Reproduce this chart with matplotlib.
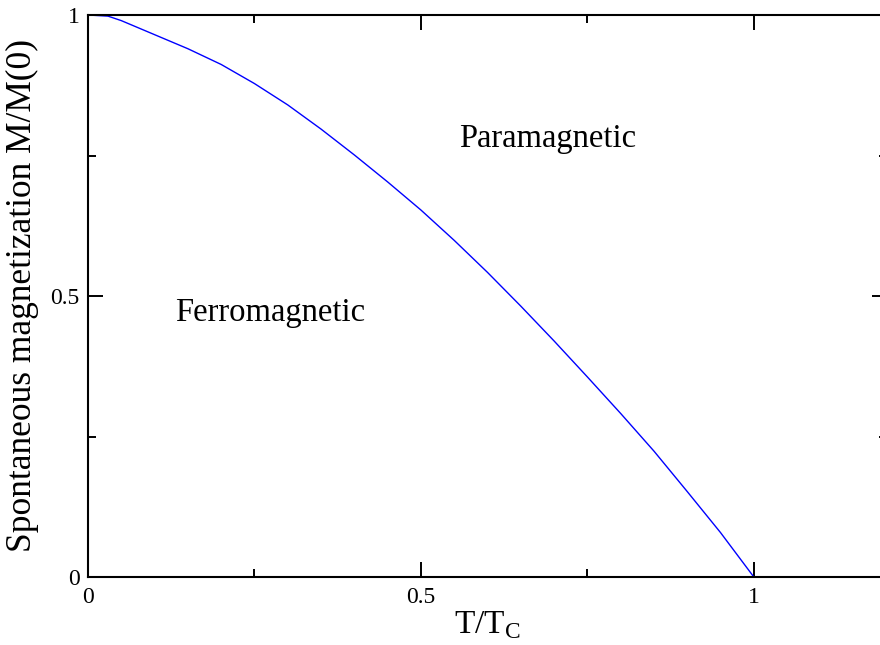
import matplotlib
matplotlib.use("Agg")
import matplotlib.pyplot as plt
from matplotlib.ticker import MultipleLocator

plt.rcParams['font.family'] = ['Liberation Serif', 'DejaVu Serif']
plt.rcParams['mathtext.fontset'] = 'custom'
plt.rcParams['mathtext.rm'] = 'Liberation Serif'

# Data
t_ratio = [0.0, 0.03, 0.05, 0.10, 0.15, 0.20, 0.25, 0.30, 0.35, 0.40, 0.45,
           0.50, 0.55, 0.60, 0.65, 0.70, 0.75, 0.80, 0.85, 0.90, 0.95, 1.00]
m_ratio = [1.0, 0.998, 0.990, 0.965, 0.940, 0.912, 0.878, 0.840, 0.797, 0.751, 0.703,
           0.653, 0.599, 0.542, 0.482, 0.420, 0.356, 0.291, 0.224, 0.152, 0.079, 0.0]

x_ticks = [0, 0.5, 1]
x_tick_labels = ["0", "0.5", "1"]
y_ticks = [0, 0.5, 1]
y_tick_labels = ["0", "0.5", "1"]

fig = plt.figure(figsize=(8.8, 6.45), dpi=100)
ax = fig.add_axes([88/880, 1 - 577/645, (887 - 88)/880, (577 - 15)/645])

ax.plot(t_ratio, m_ratio, color='#0000ff', lw=1.0)

ax.set_xlim(0, 1.2)
ax.set_ylim(0, 1)
ax.set_xticks(x_ticks)
ax.set_xticklabels(x_tick_labels)
ax.set_yticks(y_ticks)
ax.set_yticklabels(y_tick_labels)
ax.xaxis.set_minor_locator(MultipleLocator(0.25))
ax.yaxis.set_minor_locator(MultipleLocator(0.25))

ax.tick_params(which='both', direction='in', top=True, right=True, width=1.4, colors='black')
ax.tick_params(which='major', length=11, labelsize=17, pad=7)
ax.tick_params(which='minor', length=5.8)
ax.tick_params(axis='y', which='major', pad=6)
for s in ax.spines.values():
    s.set_linewidth(1.5)

ax.set_xlabel(r'T/T$_{\mathrm{C}}$', fontsize=24, labelpad=1)
ax.set_ylabel('Spontaneous magnetization M/M(0)', fontsize=25.5, labelpad=8)

ax.text(0.69, 0.779, 'Paramagnetic', fontsize=23.5, ha='center', va='center')
ax.text(0.273, 0.47, 'Ferromagnetic', fontsize=23.5, ha='center', va='center')

fig.savefig('out.png', dpi=100)
